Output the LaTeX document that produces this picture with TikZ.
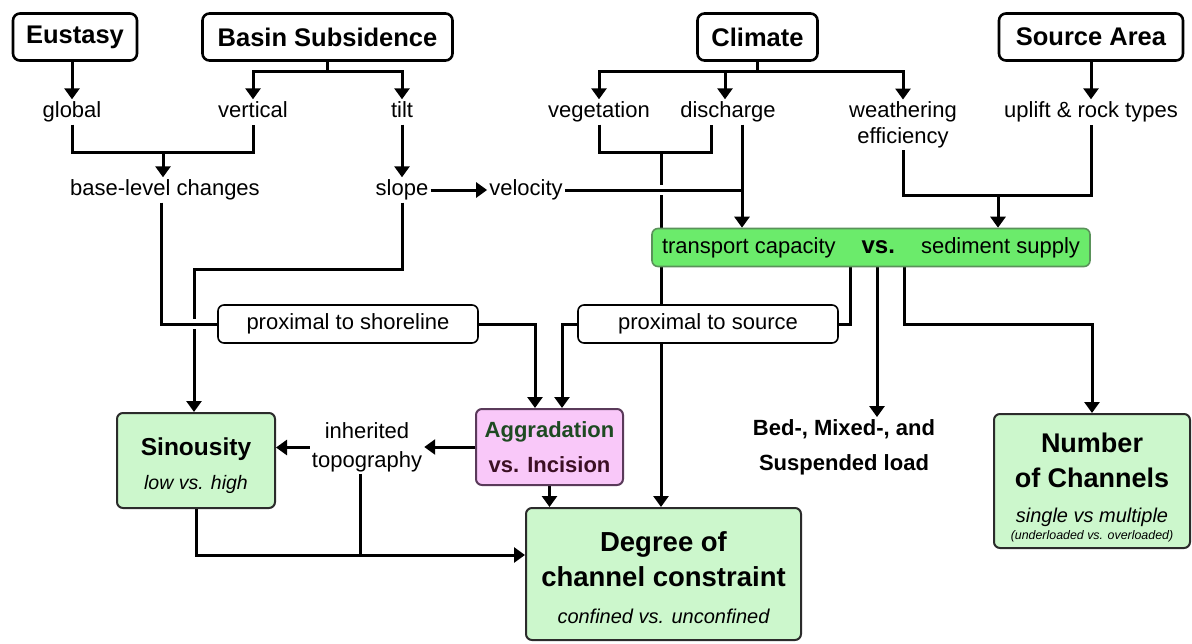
\documentclass[tikz,border=0pt]{standalone}
\usepackage{fontspec}
\setmainfont{Liberation Sans}
\usetikzlibrary{arrows.meta, positioning, calc}
\definecolor{ResGreen}{HTML}{CCF7CC}
\definecolor{VsGreen}{HTML}{6BEB6B}
\definecolor{VsEdge}{HTML}{5A925A}
\definecolor{AggPink}{HTML}{F9C8F9}
\definecolor{AggEdge}{HTML}{5A3A5A}
\definecolor{AggText}{HTML}{1E4A22}
\definecolor{IncText}{HTML}{3C1024}
\definecolor{EdgeDark}{HTML}{2B2B2B}
\pgfdeclarelayer{background}
\pgfsetlayers{background,main}

\tikzset{
  hdr/.style={draw, line width=2.6pt, rounded corners=7pt, fill=white, inner sep=0pt, minimum height=47pt, font=\fontsize{25.5}{30}\selectfont\bfseries},
  lbl/.style={inner sep=2pt, text height=16pt, text depth=5pt, font=\fontsize{22}{26}\selectfont},
  mlbl/.style={inner sep=2pt, align=center},
  pbox/.style={draw, line width=1.6pt, rounded corners=6pt, fill=white, minimum width=260pt, minimum height=38pt, inner sep=0pt, font=\fontsize{22}{26}\selectfont},
  resbox/.style={draw=EdgeDark, line width=2pt, rounded corners=6pt, fill=ResGreen, align=center, inner sep=0pt},
  link/.style={line width=3pt},
  flow/.style={line width=3pt, -{Triangle[width=15pt,length=11pt]}},
  halo/.style={preaction={draw=white, line width=10pt}},
}

\begin{document}
\begin{tikzpicture}[x=1pt, y=-1pt]
\useasboundingbox (0,0) rectangle (1192,643);

\node[hdr, minimum width=124pt] (eustasy) at (75,37) {Eustasy};
\node[hdr, minimum width=250pt] (basin) at (327.5,37) {Basin Subsidence};
\node[hdr, minimum width=120pt] (climate) at (757.5,37) {Climate};
\node[hdr, minimum width=184pt] (source) at (1091,37) {Source Area};

\node[lbl] (global) at (72,112) {global};
\node[lbl] (vertical) at (253,112) {vertical};
\node[lbl] (tilt) at (402,112) {tilt};
\node[lbl] (base) at (165,190) {base-level changes};
\node[lbl] (slope) at (402,190) {slope};
\node[lbl] (velocity) at (526,190) {velocity};
\node[lbl] (vegetation) at (599,112) {vegetation};
\node[lbl] (discharge) at (728,112) {discharge};
\node[mlbl, font=\fontsize{22}{26}\selectfont] (weathering) at (903,125) {weathering\\efficiency};
\node[lbl] (uplift) at (1091,112) {uplift \& rock types};

\node[draw=VsEdge, line width=1.6pt, fill=VsGreen, rounded corners=6pt, minimum width=438pt, minimum height=38pt, inner sep=0pt, font=\fontsize{22}{26}\selectfont] (transport) at (871,247.5)
  {transport capacity\hspace{26pt}{\fontsize{24}{26}\selectfont\bfseries vs.}\hspace{26pt}sediment supply};

\node[pbox] (pshore) at (348,324) {proximal to shoreline};
\node[pbox] (psource) at (708,324) {proximal to source};

\node[resbox, minimum width=158pt, minimum height=95pt, font=\fontsize{24.5}{34}\selectfont\bfseries] (sinuosity) at (196,460.5)
  {\rule{0pt}{28pt}Sinousity\\{\fontsize{19.5}{24}\selectfont\mdseries\itshape low vs. high}};
\node[mlbl, font=\fontsize{22}{29}\selectfont] (inherited) at (367,447.5) {inherited\\topography};
\node[draw=AggEdge, line width=2pt, fill=AggPink, rounded corners=6pt, minimum width=147pt, minimum height=76pt, inner sep=0pt, align=center, font=\fontsize{22}{35}\selectfont\bfseries] (aggr) at (549.5,447)
  {\textcolor{AggText}{Aggradation}\\\textcolor{IncText}{vs. Incision}};
\node[mlbl, font=\fontsize{22}{35}\selectfont\bfseries] (bedload) at (844,447) {Bed-, Mixed-, and\\Suspended load};
\node[resbox, minimum width=196pt, minimum height=134pt, font=\fontsize{27}{35}\selectfont\bfseries] (number) at (1092,481)
  {\rule{0pt}{33pt}Number\\of Channels\\{\fontsize{20}{24}\selectfont\mdseries\itshape single vs multiple}\\[-18.5pt]{\fontsize{12.4}{14}\selectfont\mdseries\itshape (underloaded vs. overloaded)}};
\node[resbox, minimum width=275pt, minimum height=132pt, font=\fontsize{27.5}{35}\selectfont\bfseries] (degree) at (663.5,574)
  {\rule{0pt}{28pt}Degree of\\channel constraint\\[2pt]{\fontsize{20}{24}\selectfont\mdseries\itshape confined vs. unconfined}};

\begin{pgfonlayer}{background}
\fill[white] (0,0) rectangle (1192,643);
% controls fanning out
\draw[flow] (eustasy.south -| global) -- (global.north);
\coordinate (bsj) at ([yshift=-10pt]basin.south);
\draw[link] (basin.south) -- (bsj);
\draw[flow] (bsj) -| (vertical.north);
\draw[flow] (bsj) -| (tilt.north);
\coordinate (cj) at ([yshift=-10pt]climate.south);
\draw[link] (climate.south) -- (cj);
\draw[flow] (cj) -| (vegetation.north);
\draw[flow] (cj) -| ([xshift=-3pt]discharge.north);
\draw[flow] (cj) -| (weathering.north);
\draw[flow] (source.south -| uplift) -- (uplift.north);

\coordinate (gvj) at (163,152);
\draw[link] (global.south) |- (gvj) -| (vertical.south);
\draw[flow] (gvj) -- (gvj |- base.north);
\draw[flow] (tilt.south) -- (slope.north);
\draw[flow] (slope.east) -- (velocity.west);

% vegetation + discharge trunk
\coordinate (vdj) at (661,152);
\coordinate (dq) at ([xshift=14pt]discharge.south);
\draw[link] (vegetation.south) |- (vdj) -| ([xshift=-17pt]discharge.south);
\draw[flow] (vdj) -- (vdj |- degree.north);
\draw[link, halo] (velocity.east) -- (velocity.east -| dq);
\draw[flow] (dq) -- (dq |- transport.north);

\coordinate (wuj) at (998,195);
\draw[link] (weathering.south) |- (wuj) -| (uplift.south);
\draw[flow] (wuj) -- (wuj |- transport.north);

% out of the balance box
\coordinate (tl) at ([xshift=-21pt]transport.south);
\coordinate (tm) at ([xshift=6pt]transport.south);
\coordinate (tr) at ([xshift=33pt]transport.south);
\draw[link] (tl) |- (psource.east);
\draw[flow] (tm) -- (tm |- bedload.north);
\draw[flow] (tr) |- (psource.east -| number.north) -- (number.north);

\draw[flow] (psource.west) -| ([xshift=12.5pt]aggr.north);
\draw[flow] (pshore.east) -| ([xshift=-14.5pt]aggr.north);

\coordinate (slj) at (194,269);
\draw[flow] (slope.south) |- (slj) -- (slj |- sinuosity.north);
\draw[link, halo] ([xshift=-4pt]base.south) |- (pshore.west);

% lower row
\draw[flow] (aggr.west) -- (aggr.west -| inherited.east);
\draw[flow] (inherited.west) -- (inherited.west -| sinuosity.east);
\draw[flow] (aggr.south) -- (aggr.south |- degree.north);
\coordinate (dgw) at ([yshift=19pt]degree.west);
\draw[flow] (sinuosity.south) |- (dgw);
\coordinate (itd) at ([xshift=-7pt]inherited.south);
\draw[link] (itd) -- (itd |- dgw);
\end{pgfonlayer}
\end{tikzpicture}
\end{document}
